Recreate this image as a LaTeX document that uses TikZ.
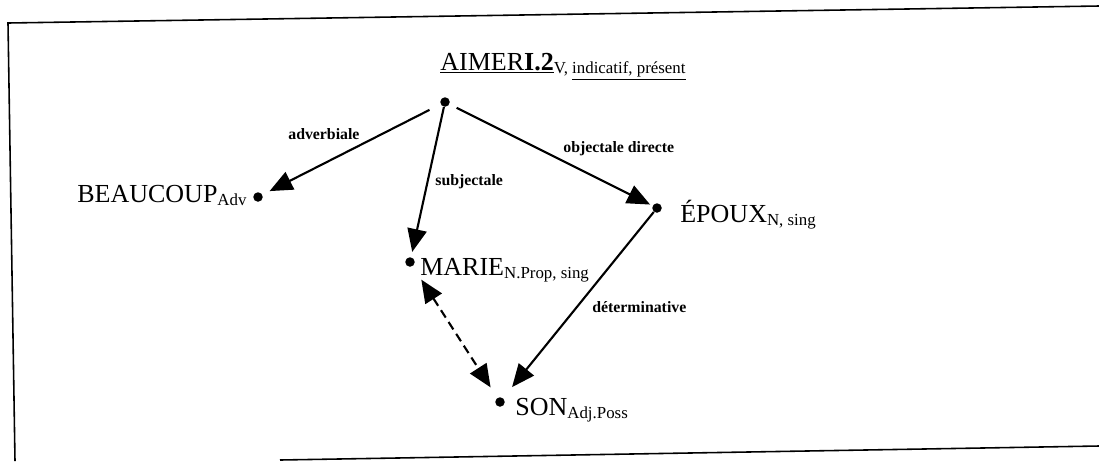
\documentclass[tikz,border=0pt]{standalone}
\usepackage{fontspec}
\setmainfont{Liberation Serif}
\usetikzlibrary{arrows.meta}
\newcommand{\lexsub}[1]{\raisebox{-2pt}{\fontsize{9.6}{11}\selectfont #1}}

\begin{document}
\begin{tikzpicture}[x=0.02cm, y=-0.02cm,
  lex/.style={anchor=base west, inner sep=0pt, font=\fontsize{14.8}{17}\selectfont},
  rel/.style={anchor=base west, inner sep=0pt, font=\bfseries\fontsize{9}{11}\selectfont},
  lexdot/.style={circle, fill=black, inner sep=0pt, minimum size=0.19cm},
  dep/.style={line width=1.2pt, -{Triangle[length=13pt, width=11pt]}},
  coref/.style={dep, dash pattern=on 5pt off 3pt,
    {Triangle[length=13pt, width=11pt]}-{Triangle[length=13pt, width=11pt]}},
  frame/.style={line width=0.9pt}]
  \useasboundingbox (0,0) rectangle (1099,461);
  % frame (scanned, slightly tilted)
  \draw[frame] (1099,6) -- (8,23) -- (15,461);
  \draw[frame] (280,460) -- (1099,446);
  % lexemes
  \node[lex] (aimer) at (440,70)
    {\underline{AIMER\textbf{I.2}}\lexsub{V, \underline{indicatif, présent}}};
  \node[lex] (beaucoup) at (77,202) {BEAUCOUP\lexsub{Adv}};
  \node[lex] (marie) at (420,275) {MARIE\lexsub{N.Prop, sing}};
  \node[lex] (epoux) at (680,222) {ÉPOUX\lexsub{N, sing}};
  \node[lex] (son) at (515,415) {SON\lexsub{Adj.Poss}};
  % dots
  \node[lexdot] (aimerdot) at (445,102) {};
  \node[lexdot] (beaucoupdot) at (258,197) {};
  \node[lexdot] (mariedot) at (410,262) {};
  \node[lexdot] (epouxdot) at (657,208) {};
  \node[lexdot] (sondot) at (500,402) {};
  % dependencies
  \draw[dep, shorten <=7pt, shorten >=4.5pt] (aimerdot) -- (beaucoupdot);
  \draw[dep, shorten >=3pt] (aimerdot) -- (mariedot);
  \draw[dep, shorten <=4.5pt, shorten >=1.5pt] (aimerdot) -- (epouxdot);
  \draw[dep, shorten >=8pt] (epouxdot) -- (sondot);
  \draw[coref, shorten <=9pt, shorten >=7pt] (mariedot) -- (sondot);
  % relation labels
  \node[rel] (adv) at (288,139) {adverbiale};
  \node[rel] (subj) at (435,185) {subjectale};
  \node[rel] (obj) at (563,152) {objectale directe};
  \node[rel] (det) at (592,312) {déterminative};
\end{tikzpicture}
\end{document}
